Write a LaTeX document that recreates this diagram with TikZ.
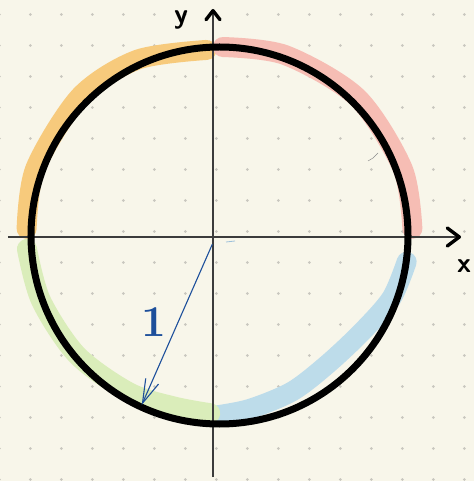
\documentclass[tikz,border=0pt]{standalone}
\usetikzlibrary{arrows.meta}
\definecolor{papier}{HTML}{F8F6EA}
\definecolor{punktgrau}{HTML}{C9C7BF}
\definecolor{achsgrau}{HTML}{3C3C3C}
\definecolor{orangehl}{HTML}{F7CA7C}
\definecolor{rosahl}{HTML}{F6BDB4}
\definecolor{blauhl}{HTML}{BDDCEA}
\definecolor{gruenhl}{HTML}{DAEDBA}
\definecolor{stiftblau}{HTML}{1D4F9B}
\tikzset{
    rasterpunkt/.style={fill=punktgrau},
    marker/.style={line width=20pt, line cap=round, line join=round},
    achse/.style={draw=achsgrau, line width=1.2pt,
        -{Straight Barb[length=12pt, width=18pt, line width=3.4pt, round, color=black]}},
    kreis/.style={draw=black, line width=7pt},
    radius/.style={draw=stiftblau, line width=1.1pt,
        -{Straight Barb[length=24pt, width=14pt, line width=1.1pt]}},
    schrift/.style={inner sep=0pt, font=\sffamily\bfseries\fontsize{28}{28}\selectfont}
}

\begin{document}
\begin{tikzpicture}[x=1pt, y=1pt]
    \path[use as bounding box, fill=papier] (-213,-244) rectangle (261,237);
    \foreach \i in {-7,...,8}
        \foreach \j in {0,...,15}
            \fill[rasterpunkt] (3.3+31*\i, 222.5-31*\j) circle (1.5);
    \coordinate (M) at (6.5,1.5);
    \coordinate (O) at (-0.7,-7.3);
    \coordinate (P) at (-71.3,-168);
    \coordinate (xl) at (-205,0);
    \coordinate (xr) at (248,0);
    \coordinate (yu) at (0,-240);
    \coordinate (yo) at (0,228);
    % markierte Viertel
    \begin{scope}[shift={(M)}]
        \draw[marker, draw=orangehl] plot[smooth] coordinates
            {(94:186) (115:194) (135:197) (160:196) (178:193)};
        \draw[marker, draw=rosahl] plot[smooth] coordinates
            {(89:188.5) (70:192) (45:195) (20:195) (2:193)};
        \draw[marker, draw=blauhl] plot[smooth] coordinates
            {(-8:189) (-20:183) (-34:172) (-50:168) (-65:172) (-80:176) (-91:180)};
        \draw[marker, draw=gruenhl] plot[smooth] coordinates
            {(184:193) (200:190) (220:186) (240:181) (255:177) (267:178)};
    \end{scope}
    \draw[achsgrau!60, line width=0.5pt] (155,76) -- (160,79) -- (165,84);
    \draw[blauhl!80!stiftblau, line width=0.8pt] (13,-5) -- (22,-4);
    \draw[achse] (xl) -- (xr);
    \draw[achse, -{Straight Barb[length=9pt, width=14pt, line width=3.4pt, round, color=black]}] (yu) -- (yo);
    \draw[kreis] (M) circle (188.5);
    \draw[radius] (O) -- (P);
    \path node[schrift] (ylab) at (-32,217) {y}
        node[schrift] (xlab) at (251,-29) {x}
        node[inner sep=0pt, text=stiftblau, font=\bfseries\fontsize{44}{44}\selectfont] (eins) at (-59,-85) {1};
\end{tikzpicture}
\end{document}
